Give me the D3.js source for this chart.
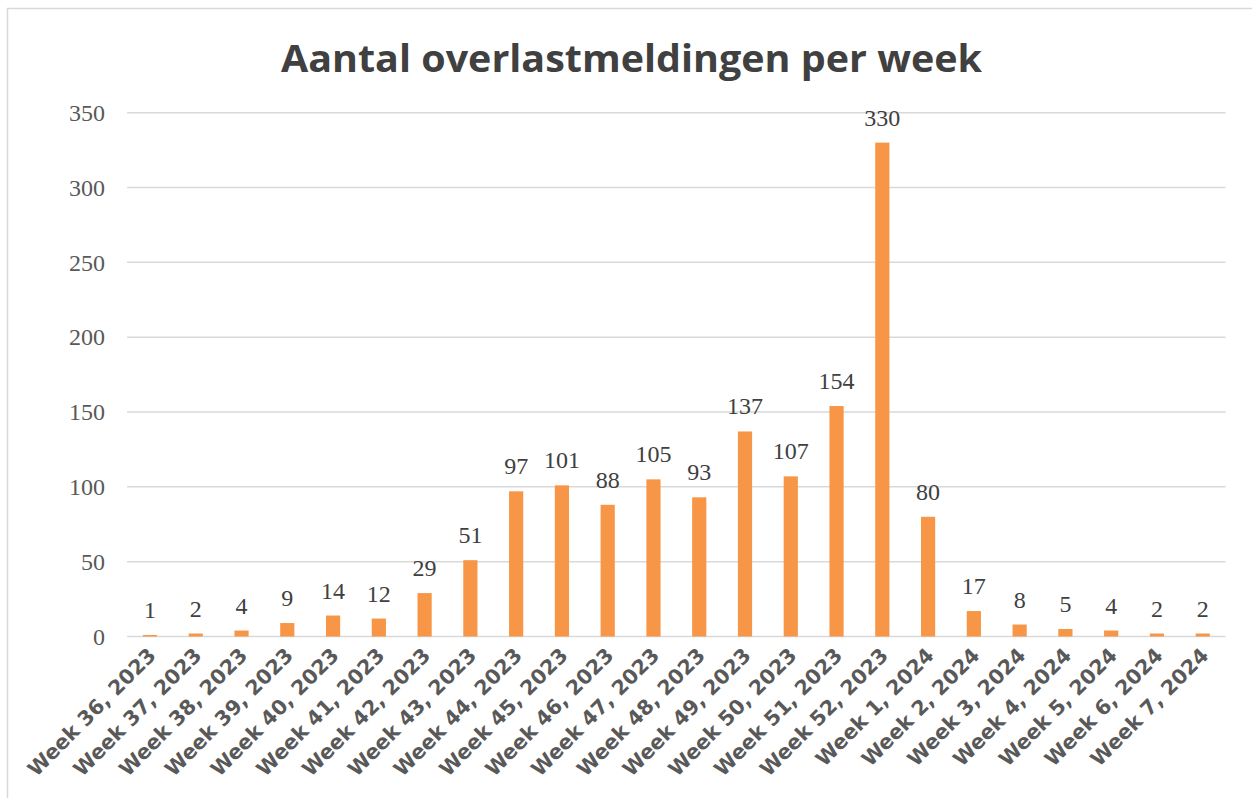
<!DOCTYPE html>
<html>
<head>
<meta charset="utf-8">
<script src="https://cdn.jsdelivr.net/npm/d3@7"></script>
<style>
  body { margin: 0; background: #fff; }
  svg { display: block; }
</style>
</head>
<body>
<div id="chart"></div>
<script>
// data
const weeks = [
  "Week 36, 2023", "Week 37, 2023", "Week 38, 2023", "Week 39, 2023", "Week 40, 2023",
  "Week 41, 2023", "Week 42, 2023", "Week 43, 2023", "Week 44, 2023", "Week 45, 2023",
  "Week 46, 2023", "Week 47, 2023", "Week 48, 2023", "Week 49, 2023", "Week 50, 2023",
  "Week 51, 2023", "Week 52, 2023", "Week 1, 2024", "Week 2, 2024", "Week 3, 2024",
  "Week 4, 2024", "Week 5, 2024", "Week 6, 2024", "Week 7, 2024"
];
const meldingen = [1, 2, 4, 9, 14, 12, 29, 51, 97, 101, 88, 105, 93, 137, 107, 154, 330, 80, 17, 8, 5, 4, 2, 2];
const yTicks = [0, 50, 100, 150, 200, 250, 300, 350];

const width = 1252;
const height = 798;
const margin = { top: 112.7, right: 26.4, bottom: 161.5, left: 127.1 };

const svg = d3.select("#chart").append("svg")
  .attr("width", width)
  .attr("height", height);

// chart border
svg.append("rect")
  .attr("x", 7.5).attr("y", 8.5)
  .attr("width", width + 10).attr("height", height + 10)
  .attr("fill", "none")
  .attr("stroke", "#d9d9d9")
  .attr("stroke-width", 1.5);

// title
svg.append("text")
  .attr("x", 631.5)
  .attr("y", 72)
  .attr("text-anchor", "middle")
  .style("font-family", "'Open Sans', sans-serif")
  .style("font-weight", 700)
  .style("font-size", "38px")
  .style("fill", "#404040")
  .attr("textLength", 701)
  .attr("lengthAdjust", "spacingAndGlyphs")
  .text("Aantal overlastmeldingen per week");

const x = d3.scaleBand()
  .domain(weeks)
  .range([margin.left, width - margin.right])
  .paddingInner(0.69)
  .paddingOuter(0.345);

const y = d3.scaleLinear()
  .domain([0, 350])
  .range([height - margin.bottom, margin.top]);

// gridlines
svg.append("g")
  .selectAll("line")
  .data(yTicks)
  .join("line")
  .attr("x1", margin.left)
  .attr("x2", width - margin.right)
  .attr("y1", d => y(d))
  .attr("y2", d => y(d))
  .attr("stroke", "#d9d9d9")
  .attr("stroke-width", 1.5);

// y axis labels
const yAxis = svg.append("g")
  .attr("transform", `translate(${margin.left - 22},0)`)
  .call(d3.axisLeft(y).tickValues(yTicks).tickSize(0).tickPadding(0));
yAxis.select(".domain").remove();
yAxis.selectAll("text")
  .style("font-family", "'Liberation Serif', serif")
  .style("font-size", "24px")
  .style("fill", "#595959");

// bars
svg.append("g")
  .selectAll("rect")
  .data(meldingen)
  .join("rect")
  .attr("x", (d, i) => x(weeks[i]))
  .attr("y", d => y(d))
  .attr("width", x.bandwidth())
  .attr("height", d => y(0) - y(d))
  .attr("fill", "#f79646");

// data labels
svg.append("g")
  .selectAll("text")
  .data(meldingen)
  .join("text")
  .attr("x", (d, i) => x(weeks[i]) + x.bandwidth() / 2)
  .attr("y", d => y(d) - 17)
  .attr("text-anchor", "middle")
  .style("font-family", "'Liberation Serif', serif")
  .style("font-size", "24px")
  .style("fill", "#404040")
  .text(d => d);

// x axis labels
const xAxis = svg.append("g")
  .attr("transform", `translate(0,${y(0)})`)
  .call(d3.axisBottom(x).tickSize(0).tickPadding(0));
xAxis.select(".domain").remove();
xAxis.selectAll("text")
  .attr("text-anchor", "end")
  .attr("transform", "translate(2,15) rotate(-45)")
  .attr("dy", "0.35em")
  .style("font-family", "'DejaVu Sans', sans-serif")
  .style("font-weight", 700)
  .style("font-size", "20.5px")
  .style("fill", "#595959");
</script>
</body>
</html>
